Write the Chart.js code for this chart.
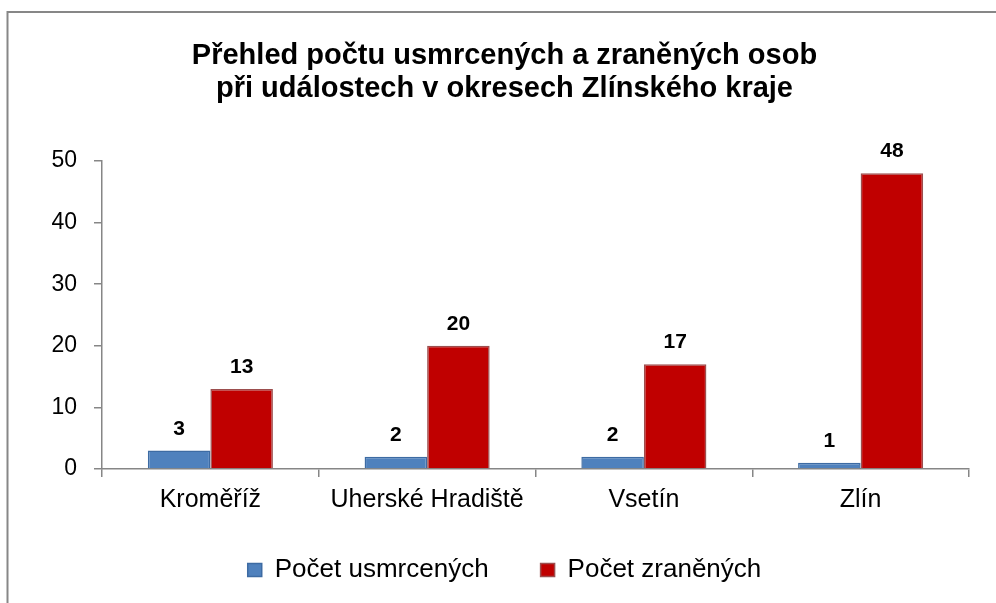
<!DOCTYPE html>
<html><head><meta charset="utf-8">
<script src="https://cdn.jsdelivr.net/npm/chart.js@4"></script>
<style>html,body{margin:0;padding:0;background:#fff}#wrap{width:996px;height:603px;position:relative}</style>
</head><body><div id="wrap"><canvas id="c"></canvas></div>
<script>
const categories = ['Kroměříž', 'Uherské Hradiště', 'Vsetín', 'Zlín'];
const killed = [3, 2, 2, 1];
const injured = [13, 20, 17, 48];
const seriesNames = ['Počet usmrcených', 'Počet zraněných'];
const titleLines = ['Přehled počtu usmrcených a zraněných osob', 'při událostech v okresech Zlínského kraje'];
const yTicks = [0, 10, 20, 30, 40, 50];

const FONT = '"Liberation Sans", Arial, sans-serif';
const AXIS = '#868686';

const framePlugin = {
  id: 'frame',
  beforeDraw(chart) {
    const ctx = chart.ctx;
    ctx.save();
    ctx.fillStyle = '#fff';
    ctx.fillRect(0, 0, chart.width, chart.height);
    ctx.strokeStyle = '#878787';
    ctx.lineWidth = 2;
    ctx.strokeRect(7.5, 12, 1200, 800);
    ctx.restore();
    // let the category labels extend below the (short) x-axis box without clipping
    const xs = chart.scales.x;
    if (xs) xs._computeLabelArea = () => undefined;
  }
};

const valueLabels = {
  id: 'valueLabels',
  afterDatasetsDraw(chart) {
    const ctx = chart.ctx;
    ctx.save();
    ctx.font = 'bold 21px ' + FONT;
    ctx.fillStyle = '#000';
    ctx.textAlign = 'center';
    ctx.textBaseline = 'alphabetic';
    chart.data.datasets.forEach((ds, i) => {
      const meta = chart.getDatasetMeta(i);
      meta.data.forEach((el, j) => {
        ctx.fillText(String(ds.data[j]), el.x, el.y - 16);
      });
    });
    ctx.restore();
  }
};

new Chart(document.getElementById('c'), {
  type: 'bar',
  data: {
    labels: categories,
    datasets: [
      { label: seriesNames[0], data: killed, backgroundColor: '#4F81BD', borderColor: '#3D6BA3', borderWidth: 1.5,
        categoryPercentage: 0.577, barPercentage: 1.0 },
      { label: seriesNames[1], data: injured, backgroundColor: '#C00000', borderColor: '#9C4E4E', borderWidth: 1.5,
        categoryPercentage: 0.577, barPercentage: 1.0 }
    ]
  },
  options: {
    responsive: true,
    maintainAspectRatio: false,
    animation: false,
    layout: { padding: { left: 40, right: 27, top: 0, bottom: 10 } },
    plugins: {
      title: {
        display: true, text: titleLines, color: '#000',
        font: { family: FONT, size: 29, weight: 'bold', lineHeight: 1.155 },
        padding: { top: 39.25, bottom: 54.75 }
      },
      legend: {
        position: 'bottom',
        labels: { boxWidth: 14, boxHeight: 13, padding: 52, color: '#000', font: { family: FONT, size: 26 } }
      },
      tooltip: { enabled: false }
    },
    scales: {
      x: {
        grid: { display: true, drawOnChartArea: false, drawTicks: true, tickLength: 8, color: AXIS, lineWidth: 1.5, offset: true },
        border: { display: true, color: AXIS, width: 1.5 },
        ticks: { color: '#000', font: { family: FONT, size: 25 }, padding: 8, maxRotation: 0, autoSkip: false },
        afterFit(s) { s.height = 36; }
      },
      y: {
        min: 0, max: 50,
        afterBuildTicks(s) { s.ticks = yTicks.map(v => ({ value: v })); },
        grid: { display: true, drawOnChartArea: false, drawTicks: true, tickLength: 8, color: AXIS, lineWidth: 1.5 },
        border: { display: true, color: AXIS, width: 1.5 },
        ticks: { color: '#000', font: { family: FONT, size: 23 }, padding: 17 },
        afterFit(s) { s.width = 62; }
      }
    }
  },
  plugins: [framePlugin, valueLabels]
});
</script>
</body></html>
